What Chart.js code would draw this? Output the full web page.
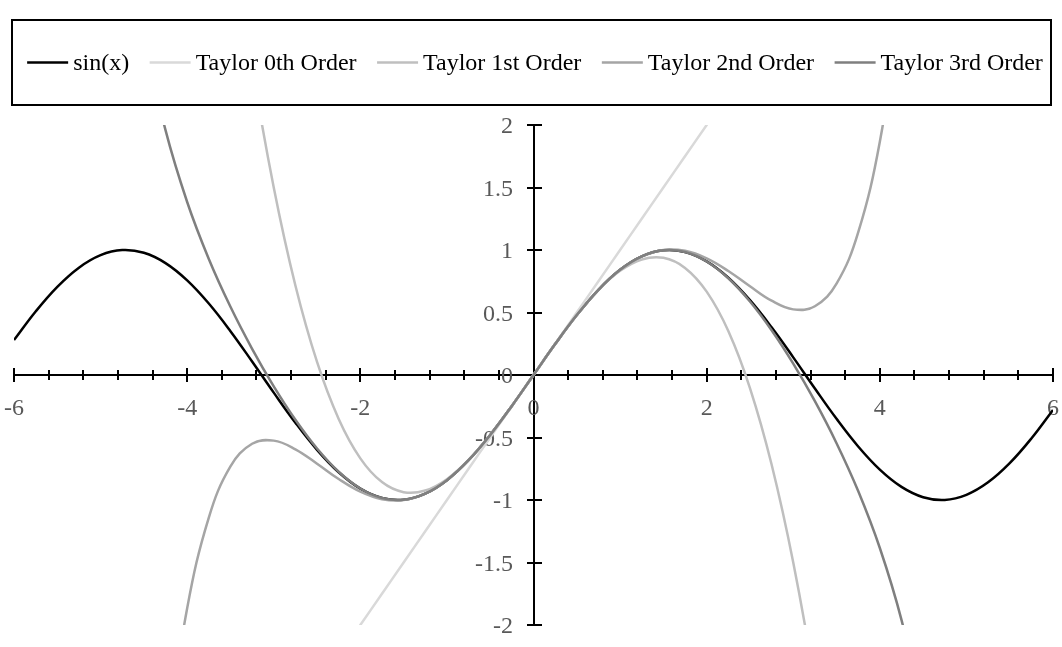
<!DOCTYPE html>
<html>
<head>
<meta charset="utf-8">
<script src="https://cdn.jsdelivr.net/npm/chart.js@4.4.0/dist/chart.umd.min.js"></script>
<style>
  html, body { margin: 0; padding: 0; background: #ffffff; }
  #wrap { width: 1062px; height: 647px; }
</style>
</head>
<body>
<div id="wrap"><canvas id="taylorChart" width="1062" height="647"></canvas></div>
<script>
// x positions, step 0.25 from -6 to 6
var xValues = [-6, -5.75, -5.5, -5.25, -5, -4.75, -4.5, -4.25, -4, -3.75, -3.5, -3.25, -3,
    -2.75, -2.5, -2.25, -2, -1.75, -1.5, -1.25, -1, -0.75, -0.5, -0.25, 0,
    0.25, 0.5, 0.75, 1, 1.25, 1.5, 1.75, 2, 2.25, 2.5, 2.75, 3,
    3.25, 3.5, 3.75, 4, 4.25, 4.5, 4.75, 5, 5.25, 5.5, 5.75, 6];

var sinValues = [0.2794, 0.5083, 0.7055, 0.8589, 0.9589, 0.9993, 0.9775, 0.8950, 0.7568, 0.5716, 0.3508, 0.1082, -0.1411,
    -0.3817, -0.5985, -0.7781, -0.9093, -0.9840, -0.9975, -0.9490, -0.8415, -0.6816, -0.4794, -0.2474, 0,
    0.2474, 0.4794, 0.6816, 0.8415, 0.9490, 0.9975, 0.9840, 0.9093, 0.7781, 0.5985, 0.3817, 0.1411,
    -0.1082, -0.3508, -0.5716, -0.7568, -0.8950, -0.9775, -0.9993, -0.9589, -0.8589, -0.7055, -0.5083, -0.2794];

var taylor0Values = [-6, -5.75, -5.5, -5.25, -5, -4.75, -4.5, -4.25, -4, -3.75, -3.5, -3.25, -3,
    -2.75, -2.5, -2.25, -2, -1.75, -1.5, -1.25, -1, -0.75, -0.5, -0.25, 0,
    0.25, 0.5, 0.75, 1, 1.25, 1.5, 1.75, 2, 2.25, 2.5, 2.75, 3,
    3.25, 3.5, 3.75, 4, 4.25, 4.5, 4.75, 5, 5.25, 5.5, 5.75, 6];

var taylor1Values = [null, null, null, null, null, null, null, null, null, null, 3.6458, 2.4714, 1.5,
    0.7161, 0.1042, -0.3516, -0.6667, -0.8568, -0.9375, -0.9245, -0.8333, -0.6797, -0.4792, -0.2474, 0,
    0.2474, 0.4792, 0.6797, 0.8333, 0.9245, 0.9375, 0.8568, 0.6667, 0.3516, -0.1042, -0.7161, -1.5,
    -2.4714, -3.6458, null, null, null, null, null, null, null, null, null, null];

var taylor2Values = [null, null, null, null, null, null, -4.6898, -3.0106, -1.8667, -1.1407, -0.7310, -0.5502, -0.5250,
    -0.5945, -0.7096, -0.8321, -0.9333, -0.9935, -1.0008, -0.9499, -0.8417, -0.6817, -0.4794, -0.2474, 0,
    0.2474, 0.4794, 0.6817, 0.8417, 0.9499, 1.0008, 0.9935, 0.9333, 0.8321, 0.7096, 0.5945, 0.5250,
    0.5502, 0.7310, 1.1407, 1.8667, 3.0106, 4.6898, null, null, null, null, null, null];

var taylor3Values = [null, null, null, null, null, 3.7862, 2.7242, 1.9587, 1.3841, 0.9284, 0.5456, 0.2097, -0.0911,
    -0.3585, -0.5885, -0.7742, -0.9079, -0.9836, -0.9974, -0.9490, -0.8415, -0.6816, -0.4794, -0.2474, 0,
    0.2474, 0.4794, 0.6816, 0.8415, 0.9490, 0.9974, 0.9836, 0.9079, 0.7742, 0.5885, 0.3585, 0.0911,
    -0.2097, -0.5456, -0.9284, -1.3841, -1.9587, -2.7242, -3.7862, null, null, null, null, null];

var seriesNames = ["sin(x)", "Taylor 0th Order", "Taylor 1st Order", "Taylor 2nd Order", "Taylor 3rd Order"];
var seriesColors = ["#000000", "#d9d9d9", "#bfbfbf", "#a5a5a5", "#7f7f7f"];

var xTickLabels = [-6, -4, -2, 0, 2, 4, 6];
var yTickLabels = [-2, -1.5, -1, -0.5, 0, 0.5, 1, 1.5, 2];
var xMinorStep = 0.4;

var FONT = '"Times New Roman", "Liberation Serif", serif';

function toPoints(values) {
    return values.map(function (v, i) { return { x: xValues[i], y: v }; });
}

// axes crossing at the origin, Excel style "cross" tick marks
var centerAxes = {
    id: "centerAxes",
    beforeDatasetsDraw: function (chart) {
        var ctx = chart.ctx;
        var xs = chart.scales.x, ys = chart.scales.y;
        var ox = Math.round(xs.getPixelForValue(0));
        var oy = Math.round(ys.getPixelForValue(0));
        ctx.save();
        ctx.strokeStyle = "#000000";
        ctx.lineWidth = 2;
        ctx.beginPath();
        ctx.moveTo(xs.left, oy); ctx.lineTo(xs.right, oy);
        ctx.moveTo(ox, ys.top); ctx.lineTo(ox, ys.bottom);
        // x minor ticks
        for (var v = xs.min; v <= xs.max + 1e-6; v += xMinorStep) {
            var px = Math.round(xs.getPixelForValue(v));
            ctx.moveTo(px, oy - 5); ctx.lineTo(px, oy + 5);
        }
        xTickLabels.forEach(function (t) {
            var px = Math.round(xs.getPixelForValue(t));
            ctx.moveTo(px, oy - 7); ctx.lineTo(px, oy + 7);
        });
        yTickLabels.forEach(function (t) {
            var py = Math.round(ys.getPixelForValue(t));
            ctx.moveTo(ox - 7, py); ctx.lineTo(ox + 8, py);
        });
        ctx.stroke();

        ctx.fillStyle = "#595959";
        ctx.font = "24px " + FONT;
        ctx.textBaseline = "alphabetic";
        ctx.textAlign = "center";
        xTickLabels.forEach(function (t) {
            ctx.fillText(String(t), xs.getPixelForValue(t), oy + 40);
        });
        ctx.textAlign = "right";
        yTickLabels.forEach(function (t) {
            ctx.fillText(String(t), ox - 21, ys.getPixelForValue(t) + 8);
        });
        ctx.restore();
    }
};

// boxed legend on one row above the plot
var boxedLegend = {
    id: "boxedLegend",
    afterDraw: function (chart) {
        var ctx = chart.ctx;
        var area = chart.chartArea;
        var left = 12, right = 1051, top = 20, bottom = area.top - 20;
        var lineLen = 41, gap = 5, spacing = 20.5;
        ctx.save();
        ctx.strokeStyle = "#000000";
        ctx.lineWidth = 2;
        ctx.strokeRect(left, top, right - left, bottom - top);

        ctx.font = "24px " + FONT;
        var widths = chart.data.datasets.map(function (ds) { return ctx.measureText(ds.label).width; });
        var total = 0;
        widths.forEach(function (w) { total += lineLen + gap + w; });
        total += spacing * (widths.length - 1);
        var x = (left + right) / 2 - total / 2 + 3.5;
        var cy = (top + bottom) / 2;
        chart.data.datasets.forEach(function (ds, i) {
            ctx.strokeStyle = ds.borderColor;
            ctx.lineWidth = 2.5;
            ctx.beginPath();
            ctx.moveTo(x, cy); ctx.lineTo(x + lineLen, cy);
            ctx.stroke();
            ctx.fillStyle = "#000000";
            ctx.textAlign = "left";
            ctx.textBaseline = "middle";
            ctx.fillText(ds.label, x + lineLen + gap, cy + 1);
            x += lineLen + gap + widths[i] + spacing;
        });
        ctx.restore();
    }
};

var allValues = [sinValues, taylor0Values, taylor1Values, taylor2Values, taylor3Values];

var datasets = allValues.map(function (vals, i) {
    return {
        label: seriesNames[i],
        data: toPoints(vals),
        borderColor: seriesColors[i],
        backgroundColor: seriesColors[i],
        borderWidth: 2.5,
        pointRadius: 0,
        tension: 0.4,
        fill: false,
        order: allValues.length - i // later series on top, like Excel
    };
});

new Chart(document.getElementById("taylorChart").getContext("2d"), {
    type: "line",
    data: { datasets: datasets },
    plugins: [centerAxes, boxedLegend],
    options: {
        responsive: false,
        animation: false,
        layout: { padding: { left: 14, right: 9, top: 125, bottom: 22 } },
        plugins: {
            legend: { display: false },
            tooltip: { enabled: false }
        },
        scales: {
            x: { type: "linear", min: -6, max: 6, display: false },
            y: { type: "linear", min: -2, max: 2, display: false }
        }
    }
});
</script>
</body>
</html>
